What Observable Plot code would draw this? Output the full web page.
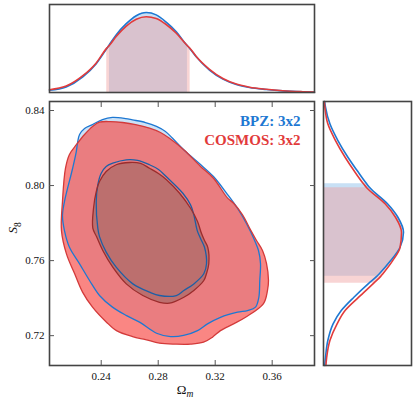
<!DOCTYPE html>
<html><head><meta charset="utf-8">
<script src="https://cdn.jsdelivr.net/npm/d3@7"></script>
<script src="https://cdn.jsdelivr.net/npm/@observablehq/plot@0.6"></script>
<style>
body{margin:0;background:#fff;}
#wrap{position:relative;width:415px;height:405px;}
#wrap svg{position:absolute;overflow:visible;}
#wrap svg text{font-family:'Liberation Serif','DejaVu Serif',serif;}
</style></head><body><div id="wrap"></div>
<script>
// ---------- data ----------
const xTicks = [0.24, 0.28, 0.32, 0.36];
const yTicks = [0.72, 0.76, 0.80, 0.84];
const omegaDomain = [0.2037, 0.3897];
const s8Domain = [0.7041, 0.8448];
const legendLabels = ["BPZ: 3x2", "COSMOS: 3x2"];
const axisLabels = ["Ωm", "S8"];

// 2D contours, [Omega_m, S8]
const bpzOuter = [[0.2409,0.8352],[0.2479,0.8363],[0.2571,0.8357],[0.2620,0.8350],[0.2711,0.8336],[0.2788,0.8315],[0.2851,0.8288],[0.2901,0.8252],[0.2985,0.8187],[0.3097,0.8112],[0.3188,0.8048],[0.3287,0.7952],[0.3343,0.7894],[0.3392,0.7835],[0.3448,0.7755],[0.3483,0.7696],[0.3504,0.7654],[0.3518,0.7585],[0.3513,0.7494],[0.3506,0.7403],[0.3483,0.7352],[0.3427,0.7334],[0.3357,0.7325],[0.3237,0.7298],[0.3146,0.7263],[0.3076,0.7227],[0.2978,0.7201],[0.2887,0.7195],[0.2788,0.7213],[0.2669,0.7272],[0.2578,0.7307],[0.2479,0.7352],[0.2388,0.7414],[0.2318,0.7494],[0.2248,0.7583],[0.2177,0.7671],[0.2142,0.7760],[0.2128,0.7840],[0.2142,0.7915],[0.2199,0.8091],[0.2225,0.8181],[0.2234,0.8229],[0.2248,0.8272],[0.2283,0.8304],[0.2339,0.8325]];
const bpzInner = [[0.2576,0.8137],[0.2655,0.8134],[0.2739,0.8111],[0.2802,0.8086],[0.2856,0.8048],[0.2973,0.7959],[0.3027,0.7897],[0.3050,0.7844],[0.3074,0.7760],[0.3097,0.7718],[0.3125,0.7671],[0.3139,0.7583],[0.3120,0.7530],[0.3050,0.7476],[0.2980,0.7441],[0.2927,0.7414],[0.2809,0.7414],[0.2739,0.7432],[0.2622,0.7476],[0.2505,0.7565],[0.2435,0.7645],[0.2388,0.7728],[0.2376,0.7773],[0.2365,0.7915],[0.2376,0.8004],[0.2400,0.8066],[0.2435,0.8102],[0.2481,0.8119]];
const cosmosOuter = [[0.2388,0.8338],[0.2465,0.8341],[0.2550,0.8336],[0.2641,0.8325],[0.2739,0.8306],[0.2816,0.8283],[0.2879,0.8252],[0.2985,0.8187],[0.3097,0.8102],[0.3188,0.8039],[0.3287,0.7933],[0.3329,0.7906],[0.3392,0.7844],[0.3448,0.7764],[0.3490,0.7707],[0.3532,0.7654],[0.3560,0.7585],[0.3574,0.7494],[0.3567,0.7441],[0.3539,0.7371],[0.3413,0.7298],[0.3329,0.7263],[0.3237,0.7227],[0.3181,0.7192],[0.3118,0.7165],[0.3027,0.7155],[0.2922,0.7155],[0.2809,0.7160],[0.2711,0.7179],[0.2620,0.7195],[0.2507,0.7227],[0.2437,0.7272],[0.2339,0.7352],[0.2269,0.7432],[0.2213,0.7531],[0.2156,0.7636],[0.2121,0.7760],[0.2128,0.7915],[0.2149,0.8091],[0.2177,0.8166],[0.2227,0.8219],[0.2283,0.8272],[0.2339,0.8315]];
const cosmosInner = [[0.2599,0.8123],[0.2676,0.8118],[0.2739,0.8092],[0.2802,0.8064],[0.2858,0.8031],[0.2950,0.7959],[0.3027,0.7879],[0.3076,0.7808],[0.3104,0.7744],[0.3125,0.7707],[0.3148,0.7671],[0.3155,0.7583],[0.3139,0.7531],[0.3120,0.7494],[0.3050,0.7441],[0.2980,0.7405],[0.2879,0.7373],[0.2809,0.7378],[0.2692,0.7414],[0.2576,0.7476],[0.2481,0.7565],[0.2411,0.7654],[0.2367,0.7728],[0.2341,0.7773],[0.2346,0.7879],[0.2365,0.7968],[0.2388,0.8022],[0.2435,0.8075],[0.2505,0.8111]];

// Omega_m marginal (relative density)
const omegaGrid   = [0.2037,0.2154,0.2271,0.2365,0.2439,0.2458,0.2505,0.2576,0.2646,0.2716,0.2786,0.2856,0.2927,0.2997,0.3005,0.3024,0.3067,0.3160,0.3254,0.3348,0.3441,0.3558,0.3675,0.3815,0.3897];
const omegaBpz    = [0.029,0.070,0.196,0.360,0.550,0.600,0.720,0.860,0.960,1.000,0.970,0.880,0.760,0.600,0.585,0.545,0.446,0.280,0.167,0.100,0.063,0.038,0.020,0.008,0.004];
const omegaCosmos = [0.035,0.080,0.210,0.370,0.555,0.590,0.700,0.830,0.915,0.946,0.925,0.850,0.740,0.600,0.585,0.550,0.450,0.290,0.175,0.105,0.066,0.040,0.022,0.010,0.005];
const omegaBandBpz = [0.2458, 0.3005];
const omegaBandCosmos = [0.2439, 0.3024];

// S8 marginal (relative density)
const s8Grid   = [0.8448,0.8418,0.8329,0.8240,0.8151,0.8080,0.8009,0.7988,0.7903,0.7831,0.7751,0.7671,0.7600,0.7529,0.7516,0.7479,0.7405,0.7334,0.7263,0.7174,0.7085,0.7041];
const s8Bpz    = [0.015,0.025,0.080,0.180,0.305,0.420,0.540,0.580,0.800,0.930,1.000,0.957,0.840,0.695,0.665,0.565,0.380,0.222,0.120,0.054,0.025,0.015];
const s8Cosmos = [0.010,0.017,0.054,0.150,0.270,0.380,0.500,0.540,0.770,0.900,0.975,0.957,0.865,0.740,0.715,0.625,0.440,0.270,0.170,0.080,0.040,0.030];
const s8BandBpz = [0.7516, 0.8009];
const s8BandCosmos = [0.7479, 0.7988];

// ---------- styles ----------
const C = {
  blue: "#1e78d2", red: "#e23b3b",
  blueOuterLine: "#1e78d2", blueInnerLine: "#1d5fa6",
  redOuterLine: "#d33a3a", redInnerLine: "#9b2c2c",
  blueFill: "#cde2f6", redOuterFill: "rgb(248,75,70)", redInnerFill: "rgb(150,100,95)",
  blueBand: "#c8e0f5", redBand: "rgb(238,155,155)",
  frame: "#444"
};
const FONT = "'Liberation Serif', 'DejaVu Serif', serif";
const baseStyle = {background: "transparent", fontFamily: FONT, fontSize: "11px", color: "#111", overflow: "visible"};

const omegaT = omegaGrid.map((x, i) => ({x, bpz: omegaBpz[i], cosmos: omegaCosmos[i]}));
const s8T = s8Grid.map((y, i) => ({y, bpz: s8Bpz[i], cosmos: s8Cosmos[i]})).sort((a, b) => a.y - b.y);
const inBand = (v, b) => v >= b[0] && v <= b[1];

const wrap = document.getElementById("wrap");
function place(svg, left, top) { svg.style.left = left + "px"; svg.style.top = top + "px"; wrap.appendChild(svg); }

// ---------- top marginal ----------
const topPlot = Plot.plot({
  width: 320, height: 100, marginLeft: 49, marginRight: 6, marginTop: 4, marginBottom: 8,
  style: baseStyle,
  x: {domain: omegaDomain, axis: null},
  y: {domain: [0, 1.1], axis: null},
  marks: [
    Plot.areaY(omegaT.filter(d => inBand(d.x, omegaBandBpz)), {x: "x", y: "bpz", fill: C.blueBand, curve: "monotone-x"}),
    Plot.areaY(omegaT.filter(d => inBand(d.x, omegaBandCosmos)), {x: "x", y: "cosmos", fill: C.redBand, fillOpacity: 0.43, curve: "monotone-x"}),
    Plot.lineY(omegaT, {x: "x", y: "bpz", stroke: C.blue, strokeWidth: 1.6, curve: "monotone-x"}),
    Plot.lineY(omegaT, {x: "x", y: "cosmos", stroke: C.red, strokeWidth: 1.6, curve: "monotone-x"}),
    Plot.frame({stroke: C.frame, strokeWidth: 1.6})
  ]
});
place(topPlot, 0, 0);

// ---------- main 2D panel ----------
const pt = {x: d => d[0], y: d => d[1]};
const mainPlot = Plot.plot({
  width: 320, height: 315, marginLeft: 49, marginRight: 6, marginTop: 11, marginBottom: 40,
  style: baseStyle,
  x: {domain: omegaDomain},
  y: {domain: s8Domain},
  marks: [
    Plot.line(bpzOuter, {...pt, fill: C.blueFill, stroke: "none", curve: "catmull-rom-closed"}),
    Plot.line(cosmosOuter, {...pt, fill: C.redOuterFill, fillOpacity: 0.67, stroke: "none", curve: "catmull-rom-closed"}),
    Plot.line(cosmosInner, {...pt, fill: C.redInnerFill, fillOpacity: 0.55, stroke: "none", curve: "catmull-rom-closed"}),
    Plot.line(bpzOuter, {...pt, stroke: C.blueOuterLine, strokeWidth: 1.3, curve: "catmull-rom-closed"}),
    Plot.line(cosmosOuter, {...pt, stroke: C.redOuterLine, strokeWidth: 1.3, curve: "catmull-rom-closed"}),
    Plot.line(bpzInner, {...pt, stroke: C.blueInnerLine, strokeWidth: 1.3, curve: "catmull-rom-closed"}),
    Plot.line(cosmosInner, {...pt, stroke: C.redInnerLine, strokeWidth: 1.3, curve: "catmull-rom-closed"}),
    Plot.frame({stroke: C.frame, strokeWidth: 1.6}),
    Plot.axisX({anchor: "bottom", ticks: xTicks, tickSize: -5, tickPadding: 12, tickFormat: d3.format(".2f"), label: null, stroke: "#555", fontFamily: FONT}),
    Plot.axisX({anchor: "top", ticks: xTicks, tickSize: -5, tickFormat: () => "", label: null, stroke: "#555"}),
    Plot.axisY({anchor: "left", ticks: yTicks, tickSize: -5, tickPadding: 10, tickFormat: d3.format(".2f"), label: null, stroke: "#555", fontFamily: FONT}),
    Plot.axisY({anchor: "right", ticks: yTicks, tickSize: -5, tickFormat: () => "", label: null, stroke: "#555"}),
    Plot.text([legendLabels[0]], {text: d => d, frameAnchor: "top-right", textAnchor: "end", lineAnchor: "bottom", dx: -14, dy: 24, fill: C.blue, fontSize: 15, fontWeight: "bold", fontFamily: FONT}),
    Plot.text([legendLabels[1]], {text: d => d, frameAnchor: "top-right", textAnchor: "end", lineAnchor: "bottom", dx: -14, dy: 43, fill: C.red, fontSize: 15, fontWeight: "bold", fontFamily: FONT}),
    Plot.text([axisLabels[0]], {text: d => d, frameAnchor: "bottom", dx: 3, dy: 28, fontSize: 13, fill: "#111", fontFamily: FONT}),
    Plot.text([axisLabels[1]], {text: d => d, frameAnchor: "left", dx: -36.5, rotate: -90, fontSize: 13, fill: "#111", fontFamily: FONT})
  ]
});
place(mainPlot, 0, 90);

// subscripts for axis labels
d3.select(mainPlot).selectAll("text").filter(function () { return this.textContent === axisLabels[0]; })
  .each(function () {
    const t = d3.select(this); t.text(null);
    t.append("tspan").text("Ω");
    t.append("tspan").attr("font-style", "italic").attr("font-size", 9.5).attr("dy", "0.35em").text("m");
  });
d3.select(mainPlot).selectAll("text").filter(function () { return this.textContent === axisLabels[1]; })
  .each(function () {
    const t = d3.select(this); t.text(null);
    t.append("tspan").attr("font-style", "italic").text("S");
    t.append("tspan").attr("font-size", 9.5).attr("dy", "0.35em").text("8");
  });

// ---------- right marginal ----------
const rightPlot = Plot.plot({
  width: 100, height: 315, marginLeft: 8, marginRight: 4, marginTop: 11, marginBottom: 40,
  style: baseStyle,
  x: {domain: [0, 1.1], axis: null},
  y: {domain: s8Domain, axis: null},
  marks: [
    Plot.areaX(s8T.filter(d => inBand(d.y, s8BandBpz)), {y: "y", x: "bpz", fill: C.blueBand, curve: "monotone-y"}),
    Plot.areaX(s8T.filter(d => inBand(d.y, s8BandCosmos)), {y: "y", x: "cosmos", fill: C.redBand, fillOpacity: 0.43, curve: "monotone-y"}),
    Plot.lineX(s8T, {y: "y", x: "bpz", stroke: C.blue, strokeWidth: 1.6, curve: "monotone-y"}),
    Plot.lineX(s8T, {y: "y", x: "cosmos", stroke: C.red, strokeWidth: 1.6, curve: "monotone-y"}),
    Plot.frame({stroke: C.frame, strokeWidth: 1.6})
  ]
});
place(rightPlot, 315, 90);
</script></body></html>
